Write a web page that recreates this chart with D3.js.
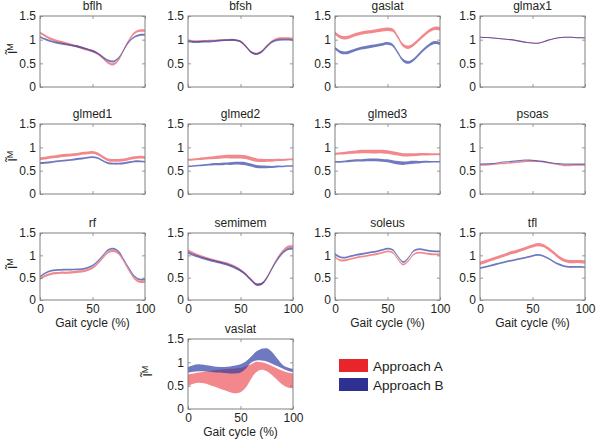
<!DOCTYPE html>
<html><head><meta charset="utf-8">
<script src="https://cdn.jsdelivr.net/npm/d3@7"></script>
<style>
body{margin:0;background:#fff}
svg{display:block}
text{font-family:"Liberation Sans",Arial,Helvetica,sans-serif}
</style></head>
<body><svg id="chart" width="600" height="439"></svg>
<script>
// ---------- data ----------
const gait = [0,5,10,15,20,25,30,35,40,45,50,55,60,65,70,75,80,85,90,95,100];
const muscles = ["bflh","bfsh","gaslat","glmax1","glmed1","glmed2","glmed3","psoas","rf","semimem","soleus","tfl","vaslat"];
const yTickValues = [0,0.5,1,1.5];
const yTickLabels = ["0","0.5","1","1.5"];
const xTickValues = [0,50,100];
const xTickLabels = ["0","50","100"];
const seriesNames = ["Approach A","Approach B"];
const xTitle = "Gait cycle (%)";

// band centre lines (A = red, B = blue) and half-widths
const bflhA = [1.15,1.08,1.02,0.98,0.95,0.92,0.89,0.86,0.83,0.79,0.76,0.70,0.61,0.51,0.48,0.58,0.80,1.00,1.14,1.19,1.19];
const bflhB = [1.06,1.01,0.97,0.94,0.92,0.90,0.88,0.86,0.83,0.80,0.76,0.71,0.63,0.56,0.54,0.62,0.79,0.96,1.06,1.10,1.10];
const bflhAw = 0.025, bflhBw = 0.02;

const bfshA = [0.98,0.97,0.97,0.97,0.98,0.98,0.99,0.99,1.00,0.99,0.96,0.86,0.74,0.70,0.75,0.87,0.97,1.02,1.03,1.03,1.02];
const bfshB = [0.96,0.95,0.95,0.96,0.96,0.97,0.98,0.99,0.99,0.99,0.96,0.86,0.74,0.70,0.74,0.85,0.95,0.99,1.00,1.00,0.99];
const bfshAw = 0.02, bfshBw = 0.02;

const gaslatA = [1.14,1.06,1.04,1.07,1.11,1.14,1.16,1.17,1.19,1.21,1.22,1.20,1.05,0.88,0.84,0.90,1.00,1.10,1.19,1.24,1.23];
const gaslatB = [0.82,0.74,0.72,0.75,0.79,0.82,0.84,0.86,0.88,0.90,0.92,0.88,0.72,0.56,0.52,0.58,0.69,0.80,0.89,0.94,0.92];
const gaslatAw = 0.035, gaslatBw = 0.03;

const glmax1A = [1.05,1.045,1.04,1.03,1.02,1.01,1.00,0.98,0.96,0.94,0.93,0.925,0.95,0.99,1.02,1.04,1.05,1.05,1.045,1.04,1.04];
const glmax1B = [1.05,1.045,1.04,1.03,1.02,1.01,1.00,0.98,0.96,0.94,0.93,0.925,0.95,0.99,1.02,1.04,1.05,1.05,1.045,1.04,1.04];
const glmax1Aw = 0.012, glmax1Bw = 0.012;

const glmed1A = [0.76,0.77,0.79,0.80,0.82,0.83,0.84,0.85,0.87,0.88,0.89,0.86,0.79,0.73,0.72,0.72,0.73,0.76,0.78,0.79,0.78];
const glmed1B = [0.66,0.67,0.68,0.70,0.71,0.72,0.73,0.75,0.76,0.78,0.79,0.77,0.71,0.66,0.65,0.65,0.66,0.68,0.70,0.70,0.69];
const glmed1Aw = 0.03, glmed1Bw = 0.02;

const glmed2A = [0.73,0.74,0.75,0.76,0.77,0.78,0.79,0.80,0.80,0.80,0.80,0.79,0.76,0.73,0.72,0.72,0.72,0.73,0.73,0.74,0.74];
const glmed2B = [0.59,0.60,0.61,0.62,0.63,0.64,0.64,0.65,0.65,0.66,0.66,0.65,0.62,0.59,0.58,0.58,0.58,0.59,0.59,0.60,0.60];
const glmed2Aw = [0.02,0.02,0.022,0.025,0.028,0.03,0.033,0.036,0.04,0.04,0.04,0.04,0.04,0.038,0.035,0.03,0.028,0.025,0.022,0.02,0.02];
const glmed2Bw = [0.015,0.015,0.016,0.018,0.02,0.022,0.024,0.026,0.028,0.03,0.032,0.033,0.033,0.032,0.03,0.026,0.022,0.02,0.018,0.016,0.015];

const glmed3A = [0.86,0.87,0.88,0.89,0.90,0.91,0.91,0.91,0.91,0.91,0.90,0.88,0.86,0.84,0.84,0.84,0.85,0.85,0.85,0.85,0.85];
const glmed3B = [0.69,0.69,0.70,0.71,0.72,0.72,0.73,0.73,0.73,0.72,0.71,0.69,0.67,0.66,0.67,0.68,0.68,0.69,0.69,0.69,0.69];
const glmed3Aw = [0.025,0.026,0.028,0.03,0.033,0.036,0.038,0.04,0.04,0.04,0.04,0.038,0.036,0.035,0.034,0.032,0.03,0.027,0.024,0.022,0.02];
const glmed3Bw = [0.018,0.018,0.02,0.022,0.024,0.026,0.028,0.03,0.03,0.03,0.032,0.034,0.036,0.036,0.034,0.03,0.026,0.022,0.018,0.016,0.015];

const psoasA = [0.62,0.62,0.63,0.64,0.65,0.66,0.67,0.68,0.69,0.70,0.70,0.70,0.69,0.67,0.65,0.63,0.61,0.61,0.62,0.62,0.62];
const psoasB = [0.64,0.645,0.65,0.66,0.68,0.69,0.70,0.71,0.72,0.725,0.72,0.71,0.70,0.68,0.66,0.65,0.64,0.64,0.64,0.64,0.64];
const psoasAw = 0.015, psoasBw = 0.012;

const rfA = [0.47,0.54,0.58,0.60,0.61,0.61,0.62,0.63,0.64,0.67,0.72,0.82,0.95,1.07,1.10,1.04,0.86,0.65,0.48,0.41,0.41];
const rfB = [0.52,0.60,0.65,0.67,0.675,0.68,0.68,0.685,0.69,0.72,0.77,0.87,1.00,1.12,1.15,1.08,0.90,0.70,0.53,0.46,0.46];
const rfAw = 0.025, rfBw = 0.02;

const semimemA = [1.11,1.05,1.00,0.96,0.92,0.89,0.86,0.83,0.79,0.74,0.67,0.58,0.46,0.35,0.36,0.50,0.72,0.93,1.09,1.19,1.20];
const semimemB = [1.06,1.01,0.97,0.93,0.90,0.87,0.84,0.81,0.77,0.72,0.66,0.57,0.45,0.35,0.36,0.49,0.70,0.90,1.05,1.14,1.15];
const semimemAw = 0.025, semimemBw = 0.025;

const soleusA = [0.96,0.89,0.89,0.92,0.95,0.97,0.99,1.01,1.03,1.06,1.09,1.06,0.91,0.79,0.88,1.02,1.06,1.05,1.03,1.02,1.02];
const soleusB = [1.03,0.96,0.95,0.98,1.01,1.03,1.05,1.07,1.09,1.12,1.15,1.12,0.97,0.85,0.95,1.10,1.14,1.12,1.10,1.09,1.09];
const soleusAw = 0.02, soleusBw = 0.02;

const tflA = [0.82,0.86,0.90,0.94,0.98,1.02,1.06,1.09,1.13,1.17,1.21,1.24,1.22,1.15,1.06,0.96,0.89,0.86,0.86,0.86,0.85];
const tflB = [0.71,0.74,0.77,0.80,0.83,0.86,0.88,0.91,0.93,0.96,0.99,1.01,0.99,0.93,0.86,0.80,0.76,0.74,0.74,0.74,0.73];
const tflAw = 0.035, tflBw = 0.02;

// vaslat bands given as lower / upper limits
const vaslatALo = [0.49,0.54,0.56,0.55,0.52,0.48,0.44,0.40,0.36,0.34,0.36,0.46,0.64,0.79,0.84,0.81,0.73,0.62,0.52,0.46,0.44];
const vaslatAHi = [0.74,0.76,0.78,0.80,0.81,0.83,0.84,0.85,0.86,0.87,0.88,0.91,0.96,1.01,1.00,0.97,0.92,0.87,0.82,0.78,0.76];
const vaslatBLo = [0.78,0.80,0.81,0.81,0.80,0.79,0.78,0.77,0.76,0.76,0.78,0.86,0.99,1.04,1.04,1.02,0.97,0.92,0.87,0.82,0.79];
const vaslatBHi = [0.90,0.94,0.96,0.95,0.93,0.91,0.90,0.90,0.91,0.93,0.96,1.02,1.12,1.23,1.29,1.30,1.22,1.08,0.95,0.89,0.86];

// ---------- build bands ----------
function band(mid, hw){
  const w = Array.isArray(hw) ? hw : mid.map(() => hw);
  return gait.map((g,i) => ({x:g, lo:mid[i]-w[i], hi:mid[i]+w[i]}));
}
function bandLH(lo, hi){ return gait.map((g,i)=>({x:g, lo:lo[i], hi:hi[i]})); }
const bands = {
  bflh:[band(bflhA,bflhAw),band(bflhB,bflhBw)],
  bfsh:[band(bfshA,bfshAw),band(bfshB,bfshBw)],
  gaslat:[band(gaslatA,gaslatAw),band(gaslatB,gaslatBw)],
  glmax1:[band(glmax1A,glmax1Aw),band(glmax1B,glmax1Bw)],
  glmed1:[band(glmed1A,glmed1Aw),band(glmed1B,glmed1Bw)],
  glmed2:[band(glmed2A,glmed2Aw),band(glmed2B,glmed2Bw)],
  glmed3:[band(glmed3A,glmed3Aw),band(glmed3B,glmed3Bw)],
  psoas:[band(psoasA,psoasAw),band(psoasB,psoasBw)],
  rf:[band(rfA,rfAw),band(rfB,rfBw)],
  semimem:[band(semimemA,semimemAw),band(semimemB,semimemBw)],
  soleus:[band(soleusA,soleusAw),band(soleusB,soleusBw)],
  tfl:[band(tflA,tflAw),band(tflB,tflBw)],
  vaslat:[bandLH(vaslatALo,vaslatAHi),bandLH(vaslatBLo,vaslatBHi)]
};

// ---------- layout ----------
const colLeft = [40,188,335,480];
const rowTop = [16,124,233,339];
const rowBot = [87,194,300,409];
const panelW = 105;
const fillCol = ["rgb(232,38,43)","rgb(40,55,160)"];
const fillOp = [0.55,0.67];
const legendCol = ["#e8252a","#2e3192"];
const boxCol = "#808080";
const textCol = "#231f20";

const svg = d3.select("#chart");

muscles.forEach((m,i)=>{
  let row = Math.floor(i/4), col = i%4;
  if (m === "vaslat"){ row = 3; col = 1; }
  const left = colLeft[col], top = rowTop[row], h = rowBot[row]-rowTop[row];
  const x = d3.scaleLinear().domain([0,100]).range([0,panelW]);
  const y = d3.scaleLinear().domain([0,1.5]).range([h,0]);
  const g = svg.append("g").attr("transform",`translate(${left},${top})`);

  g.append("clipPath").attr("id","clip"+i).append("rect").attr("width",panelW).attr("height",h);
  const area = d3.area().x(d=>x(d.x)).y0(d=>y(d.lo)).y1(d=>y(d.hi)).curve(d3.curveCatmullRom.alpha(0.5));
  const pg = g.append("g").attr("clip-path",`url(#clip${i})`);
  bands[m].forEach((b,k)=>{
    pg.append("path").attr("d",area(b)).attr("fill",fillCol[k]).attr("fill-opacity",fillOp[k]);
  });

  const showX = row >= 2;
  // the panel above vaslat gives its x-title slot to the vaslat title
  const showXTitle = showX && !(row === 2 && col === 1);
  const ax = gen => gen.tickSizeInner(-3).tickSizeOuter(0).tickPadding(4);
  const yl = g.append("g").call(ax(d3.axisLeft(y)).tickValues(yTickValues).tickFormat((d,j)=>yTickLabels[j]));
  const yr = g.append("g").attr("transform",`translate(${panelW},0)`).call(ax(d3.axisRight(y)).tickValues(yTickValues).tickFormat(""));
  const xb = g.append("g").attr("transform",`translate(0,${h})`).call(ax(d3.axisBottom(x)).tickValues(xTickValues).tickFormat((d,j)=>showX?xTickLabels[j]:""));
  const xt = g.append("g").call(ax(d3.axisTop(x)).tickValues(xTickValues).tickFormat(""));
  [yl,yr,xb,xt].forEach(a=>{
    a.select(".domain").remove();
    a.selectAll("line").attr("stroke",boxCol).attr("stroke-width",0.8);
    a.selectAll("text").attr("fill",textCol).style("font-size","12px");
  });
  xb.selectAll("text").attr("dy","0.75em").attr("y",4);

  g.append("rect").attr("width",panelW).attr("height",h).attr("fill","none").attr("stroke",boxCol).attr("stroke-width",1);

  g.append("text").attr("x",panelW/2).attr("y",-6).attr("text-anchor","middle")
    .attr("fill",textCol).style("font-size","12px").text(m);

  if (showXTitle){
    g.append("text").attr("x",panelW/2).attr("y",h+27).attr("text-anchor","middle")
      .attr("fill",textCol).style("font-size","12px").text(xTitle);
  }
  if (col === 0 || m === "vaslat"){
    const lx = (m === "vaslat") ? -36 : -23;
    const t = g.append("text").attr("transform",`translate(${lx},${h/2-3}) rotate(-90)`)
      .attr("text-anchor","middle").attr("fill",textCol).style("font-size","13px");
    t.append("tspan").text("l\u0303");
    t.append("tspan").attr("dy",-4).style("font-size","9px").text("M");
  }
});

// legend
const lg = svg.append("g").attr("transform","translate(339,359)");
seriesNames.forEach((s,k)=>{
  lg.append("rect").attr("x",0).attr("y",k*19).attr("width",29).attr("height",13).attr("fill",legendCol[k]);
  lg.append("text").attr("x",34).attr("y",k*19+11.5).attr("fill",textCol).style("font-size","13.5px").text(s);
});
</script></body></html>
